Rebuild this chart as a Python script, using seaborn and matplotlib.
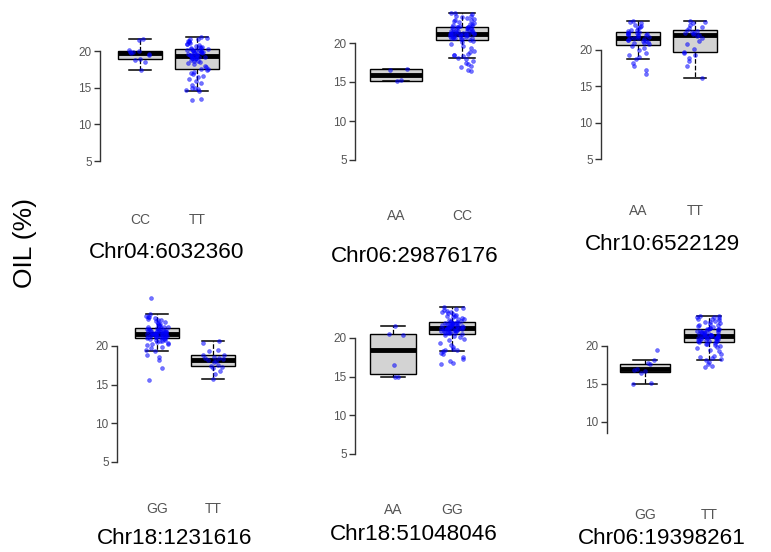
import numpy as np
import pandas as pd
import seaborn as sns
import matplotlib.pyplot as plt

# Oil content (%) per genotype for each SNP
snp_names = ['Chr04:6032360', 'Chr06:29876176', 'Chr10:6522129',
             'Chr18:1231616', 'Chr18:51048046', 'Chr06:19398261']
genotypes = [['CC', 'TT'], ['AA', 'CC'], ['AA', 'TT'],
             ['GG', 'TT'], ['AA', 'GG'], ['GG', 'TT']]

chr04_cc = [17.4, 18.5, 18.8, 18.9, 19.4, 19.6, 19.7, 19.8, 19.9, 20.0, 20.2, 21.5, 21.6]
chr04_tt = [13.3, 13.4, 14.6, 14.7, 14.8, 14.9, 15.0, 15.3, 15.6, 15.9, 16.2, 16.4, 16.6, 16.8, 17.0, 17.2, 17.4, 17.5,
            17.6, 17.8, 18.0, 18.2, 18.4, 18.5, 18.6, 18.7, 18.8, 18.9, 19.0, 19.0, 19.1, 19.1, 19.2, 19.2, 19.3, 19.3,
            19.4, 19.4, 19.5, 19.5, 19.6, 19.6, 19.7, 19.7, 19.8, 19.8, 19.9, 19.9, 20.0, 20.0, 20.1, 20.1, 20.2, 20.2,
            20.3, 20.3, 20.4, 20.4, 20.5, 20.6, 20.7, 20.8, 20.9, 21.0, 21.1, 21.2, 21.3, 21.4, 21.6, 21.7, 21.8, 21.9]

chr06a_aa = [15.1, 15.2, 16.6, 16.7]
chr06a_cc = [16.4, 16.6, 16.9, 17.1, 17.3, 17.5, 17.7, 17.9, 18.1, 18.3, 18.4, 18.5, 18.6, 18.8, 19.0, 19.3, 19.6, 19.9, 20.1, 20.3,
             20.4, 20.5, 20.5, 20.6, 20.6, 20.7, 20.7, 20.8, 20.8, 20.9, 20.9, 20.9, 21.0, 21.0, 21.0, 21.1, 21.1, 21.1, 21.2, 21.2,
             21.2, 21.3, 21.3, 21.3, 21.4, 21.4, 21.4, 21.5, 21.5, 21.6, 21.6, 21.7, 21.7, 21.8, 21.8, 21.9, 21.9, 22.0, 22.0, 22.0,
             22.1, 22.1, 22.2, 22.2, 22.3, 22.4, 22.5, 22.6, 22.7, 22.8, 22.9, 23.0, 23.1, 23.2, 23.3, 23.4, 23.5, 23.7, 23.8, 23.9]

chr10_aa = [16.7, 17.2, 17.8, 18.2, 18.7, 19.0, 19.3, 19.6, 20.0, 20.3, 20.6,
            20.8, 20.9, 21.0, 21.1, 21.2, 21.3, 21.4, 21.4, 21.5, 21.6, 21.6,
            21.7, 21.8, 21.9, 22.0, 22.0, 22.1, 22.2, 22.2, 22.3, 22.3, 22.4,
            22.5, 22.6, 22.7, 22.8, 23.0, 23.1, 23.3, 23.5, 23.7, 23.9, 24.0]
chr10_tt = [16.1, 17.8, 18.5, 18.9, 19.3, 19.6, 19.7, 20.2, 20.8, 21.3, 21.7, 21.9, 22.1,
            22.2, 22.3, 22.4, 22.5, 22.6, 22.75, 23.0, 23.2, 23.5, 23.7, 23.9, 24.0]

chr18a_gg = [15.6, 17.1, 18.2, 18.6, 18.9, 19.3, 19.5, 19.7, 19.9, 20.1, 20.2, 20.3, 20.4, 20.5, 20.6, 20.7, 20.8, 20.8, 20.9, 20.9,
             21.0, 21.0, 21.1, 21.1, 21.1, 21.2, 21.2, 21.2, 21.3, 21.3, 21.3, 21.4, 21.4, 21.4, 21.5, 21.5, 21.5, 21.5, 21.6, 21.6,
             21.6, 21.7, 21.7, 21.7, 21.8, 21.8, 21.8, 21.9, 21.9, 21.9, 22.0, 22.0, 22.0, 22.1, 22.1, 22.1, 22.2, 22.2, 22.2, 22.3,
             22.3, 22.4, 22.4, 22.5, 22.6, 22.7, 22.8, 22.9, 23.0, 23.1, 23.2, 23.3, 23.4, 23.5, 23.6, 23.7, 23.8, 23.9, 24.1, 26.2]
chr18a_tt = [15.7, 16.4, 16.8, 17.2, 17.3, 17.4, 17.6, 17.9, 18.1, 18.2,
             18.3, 18.4, 18.5, 18.6, 18.8, 18.9, 19.3, 19.5, 20.4, 20.6]

chr18b_aa = [15.0, 15.0, 16.5, 20.4, 20.5, 21.5]
chr18b_gg = [16.6, 16.8, 17.0, 17.3, 17.6, 17.9, 18.1, 18.3, 18.4, 18.5, 18.6, 18.8, 19.1, 19.4, 19.7, 19.9, 20.1, 20.3, 20.4, 20.5,
             20.6, 20.6, 20.7, 20.7, 20.8, 20.8, 20.9, 20.9, 20.9, 21.0, 21.0, 21.0, 21.1, 21.1, 21.1, 21.2, 21.2, 21.2, 21.3, 21.3,
             21.3, 21.4, 21.4, 21.4, 21.5, 21.5, 21.6, 21.6, 21.6, 21.7, 21.7, 21.8, 21.8, 21.8, 21.9, 21.9, 22.0, 22.0, 22.0, 22.1,
             22.1, 22.2, 22.2, 22.3, 22.4, 22.5, 22.6, 22.7, 22.8, 22.9, 23.0, 23.1, 23.2, 23.3, 23.4, 23.5, 23.6, 23.8, 23.9, 24.0]

chr06b_gg = [15.0, 15.1, 16.5, 16.7, 16.9, 17.0, 17.6, 17.7, 18.2, 19.5]
chr06b_tt = [17.2, 17.4, 17.6, 17.9, 18.1, 18.3, 18.4, 18.5, 18.7, 19.0, 19.3, 19.5, 19.7, 19.9, 20.0, 20.1, 20.2, 20.3, 20.4, 20.5,
             20.6, 20.6, 20.7, 20.7, 20.8, 20.8, 20.9, 20.9, 21.0, 21.0, 21.0, 21.1, 21.1, 21.1, 21.2, 21.2, 21.2, 21.3, 21.3, 21.3,
             21.4, 21.4, 21.5, 21.5, 21.5, 21.6, 21.6, 21.7, 21.7, 21.8, 21.8, 21.9, 21.9, 22.0, 22.0, 22.1, 22.1, 22.2, 22.2, 22.3,
             22.3, 22.4, 22.4, 22.5, 22.6, 22.7, 22.8, 22.9, 23.0, 23.1, 23.2, 23.3, 23.4, 23.5, 23.6, 23.7, 23.8, 23.8, 23.9, 23.9]

oil_values = [(chr04_cc, chr04_tt), (chr06a_aa, chr06a_cc), (chr10_aa, chr10_tt),
              (chr18a_gg, chr18a_tt), (chr18b_aa, chr18b_gg), (chr06b_gg, chr06b_tt)]

# panel layout in pixels: spine x, y of tick 20, y of lowest tick, first box x, box spacing,
# category label y, title centre
W, H = 771, 552
layout = [
    dict(sx=100, y20=51, ylo=161, lo_val=5, cx0=140, sp=57, laby=220, tx=167, ty=253, spine_lo=5),
    dict(sx=355, y20=43, ylo=160, lo_val=5, cx0=396, sp=66, laby=216, tx=415, ty=256, spine_lo=5),
    dict(sx=601, y20=50, ylo=159, lo_val=5, cx0=638, sp=57, laby=211, tx=662, ty=245, spine_lo=5),
    dict(sx=117, y20=346, ylo=462, lo_val=5, cx0=157, sp=56, laby=509, tx=175, ty=539, spine_lo=5),
    dict(sx=355, y20=338, ylo=454, lo_val=5, cx0=393, sp=59, laby=510, tx=414, ty=535, spine_lo=5),
    dict(sx=607, y20=346, ylo=422, lo_val=10, cx0=645, sp=64, laby=515, tx=662, ty=539, spine_lo=8.5),
]

plt.rcParams['font.family'] = ['Liberation Sans', 'DejaVu Sans']
np.random.seed(3)

fig = plt.figure(figsize=(W / 100, H / 100), dpi=100)

for i, lay in enumerate(layout):
    g1, g2 = genotypes[i]
    v1, v2 = oil_values[i]
    df = pd.DataFrame({'geno': [g1] * len(v1) + [g2] * len(v2), 'oil': list(v1) + list(v2)})

    unit = (lay['ylo'] - lay['y20']) / (20 - lay['lo_val'])
    ylim = (lay['spine_lo'] - 0.3, 26.5)
    bottom_px = lay['y20'] + (20 - ylim[0]) * unit
    top_px = lay['y20'] - (ylim[1] - 20) * unit
    xl = -(lay['cx0'] - lay['sx']) / lay['sp']
    xr = 1.7
    ax = fig.add_axes([lay['sx'] / W, 1 - bottom_px / H,
                       (xr - xl) * lay['sp'] / W, (bottom_px - top_px) / H])

    sns.boxplot(data=df, x='geno', y='oil', order=[g1, g2], ax=ax, width=0.78,
                color='#d3d3d3', showfliers=False, linewidth=1, linecolor='black',
                boxprops=dict(facecolor='#d3d3d3', edgecolor='black'),
                medianprops=dict(color='black', linewidth=3.5),
                whiskerprops=dict(linestyle='--', linewidth=0.9),
                capprops=dict(linewidth=1.1))
    sns.stripplot(data=df, x='geno', y='oil', order=[g1, g2], ax=ax, color='blue',
                  size=2.8, alpha=0.55, jitter=0.2, linewidth=0.4, edgecolor='blue')

    ax.set_xlim(xl, xr)
    ax.set_ylim(*ylim)
    ax.set_facecolor('none')
    for s in ['top', 'right', 'bottom']:
        ax.spines[s].set_visible(False)
    ax.spines['left'].set_bounds(lay['spine_lo'], 20)
    ax.spines['left'].set_linewidth(1.0)
    ax.spines['left'].set_color('#333333')
    ticks = [5, 10, 15, 20] if lay['lo_val'] == 5 else [10, 15, 20]
    ax.set_yticks(ticks)
    ax.tick_params(axis='y', length=4, width=1, colors='#333333', labelsize=8.5,
                   labelcolor='#555555', pad=2)
    pad_px = (lay['laby'] - 7) - bottom_px
    ax.tick_params(axis='x', length=0, labelsize=10, labelcolor='#555555', pad=pad_px * 0.72)
    ax.set_xlabel('')
    ax.set_ylabel('')
    fig.text(lay['tx'] / W, 1 - lay['ty'] / H, snp_names[i], ha='center', va='center',
             fontsize=16.2, color='black')

fig.text(25 / W, 1 - 243 / H, 'OIL (%)', rotation=90, ha='center', va='center', fontsize=19)

fig.savefig('out.png', dpi=100, facecolor='white')
